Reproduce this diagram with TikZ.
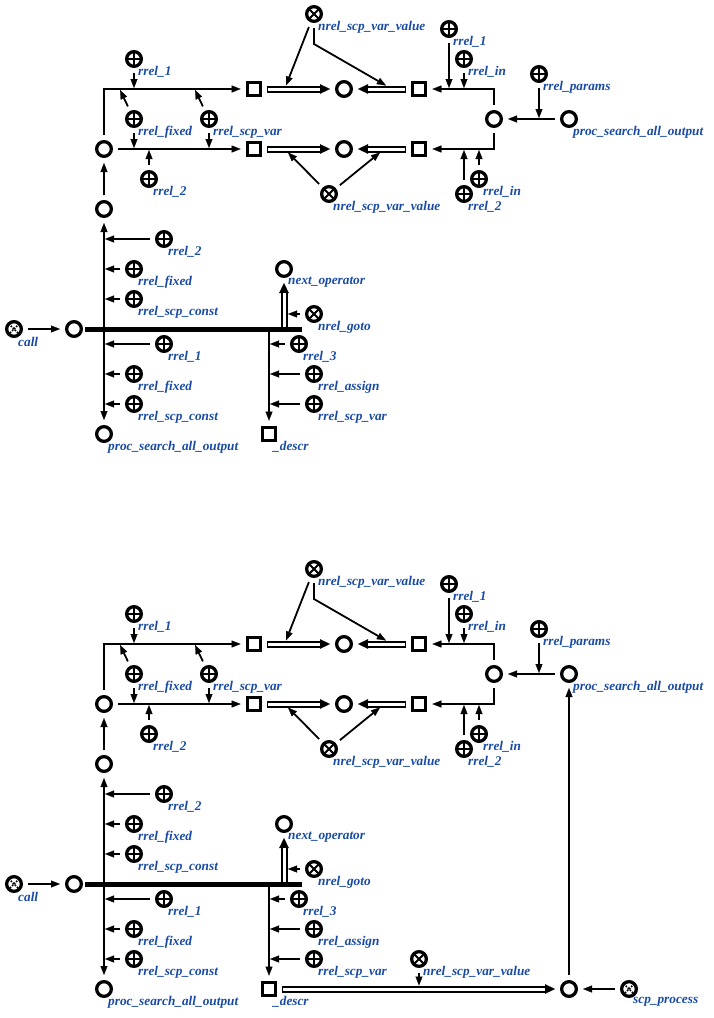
\documentclass[tikz,border=0pt]{standalone}
\usepackage{fontspec}
\setmainfont{Liberation Serif}
\usetikzlibrary{arrows.meta}
\definecolor{labblue}{RGB}{25,75,165}
\tikzset{
 ndbase/.style={circle,draw,line width=3.3pt,minimum size=14.7pt,inner sep=0pt,fill=white},
 emptyn/.style={ndbase},
 plusn/.style={ndbase,path picture={\draw[line width=2pt] (path picture bounding box.north)--(path picture bounding box.south) (path picture bounding box.west)--(path picture bounding box.east);}},
 crossn/.style={ndbase,path picture={\draw[line width=2pt] (path picture bounding box.north west)--(path picture bounding box.south east) (path picture bounding box.north east)--(path picture bounding box.south west);}},
 dcrossn/.style={ndbase,path picture={\draw[line width=1.6pt,dash pattern=on 1.6pt off 1.3pt] (path picture bounding box.north west)--(path picture bounding box.south east) (path picture bounding box.north east)--(path picture bounding box.south west);}},
 sq/.style={rectangle,draw,line width=3.3pt,minimum size=13.4pt,inner sep=0pt,fill=white},
 lab/.style={anchor=west,inner sep=0pt,text=labblue,font=\bfseries\itshape\fontsize{13.3}{15}\selectfont},
 scarc/.style={line width=1.8pt,-{Triangle[length=9pt,width=7pt,line width=0.2pt]},shorten <=5pt,shorten >=5pt},
 toarc/.style={scarc,shorten >=0pt},
 fromcoord/.style={scarc,shorten <=0pt},
 busline/.style={line width=5pt},
}
\newcommand{\nd}[5]{\node[#1] (#2) at (#3,#4) {}; \node[lab] (#2-l) at (#3+4,#4+13) {#5};}
\newcommand{\carc}[4]{%
 \draw[line width=7pt,-{Triangle[length=10pt,width=9.5pt,line width=0.2pt]},shorten <=#3,shorten >=5pt] (#1) -- (#2);
 \draw[white,line width=3pt,shorten <=#4,shorten >=15pt] (#1) -- (#2);}
\newcommand{\common}{%
 \nd{crossn}{vt}{314}{14}{nrel\_scp\_var\_value}
 \nd{plusn}{ra}{134}{59}{rrel\_1}
 \nd{plusn}{rb}{134}{119}{rrel\_fixed}
 \nd{plusn}{rc}{209}{119}{rrel\_scp\_var}
 \nd{plusn}{rd}{149}{179}{rrel\_2}
 \node[emptyn] (A) at (104,149) {};
 \node[emptyn] (B) at (104,209) {};
 \node[sq] (S1) at (254,89) {};
 \node[sq] (S2) at (254,149) {};
 \node[emptyn] (C1) at (344,89) {};
 \node[emptyn] (C2) at (344,149) {};
 \node[sq] (S3) at (419,89) {};
 \node[sq] (S4) at (419,149) {};
 \node[emptyn] (D) at (494,119) {};
 \nd{emptyn}{ps}{569}{119}{proc\_search\_all\_output}
 \nd{plusn}{rp}{539}{74}{rrel\_params}
 \nd{plusn}{re}{449}{29}{rrel\_1}
 \nd{plusn}{rf}{464}{59}{rrel\_in}
 \nd{plusn}{rg}{479}{179}{rrel\_in}
 \nd{plusn}{rh}{464}{194}{rrel\_2}
 \nd{crossn}{vb}{329}{194}{nrel\_scp\_var\_value}
 \nd{dcrossn}{call}{14}{329}{call}
 \node[emptyn] (E) at (74,329) {};
 \nd{plusn}{la}{164}{239}{rrel\_2}
 \nd{plusn}{lb}{134}{269}{rrel\_fixed}
 \nd{plusn}{lc}{134}{299}{rrel\_scp\_const}
 \nd{plusn}{ld}{164}{344}{rrel\_1}
 \nd{plusn}{le}{134}{374}{rrel\_fixed}
 \nd{plusn}{lf}{134}{404}{rrel\_scp\_const}
 \nd{emptyn}{out}{104}{434}{proc\_search\_all\_output}
 \nd{emptyn}{next}{284}{269}{next\_operator}
 \nd{crossn}{goto}{314}{314}{nrel\_goto}
 \nd{plusn}{ma}{299}{344}{rrel\_3}
 \nd{plusn}{mb}{314}{374}{rrel\_assign}
 \nd{plusn}{mc}{314}{404}{rrel\_scp\_var}
 \nd{sq}{descr}{269}{434}{\_descr}
 \coordinate (p1) at (134,88);
 \coordinate (p2) at (120,90);
 \coordinate (p3) at (195,90);
 \coordinate (p4) at (134,148);
 \coordinate (p5) at (209,148);
 \coordinate (p6) at (149,150);
 \coordinate (q1) at (286,85.5);
 \coordinate (q2) at (314,44);
 \coordinate (q3) at (386,85.5);
 \coordinate (q4) at (288,152.5);
 \coordinate (q5) at (380,152.5);
 \coordinate (d1) at (449,88);
 \coordinate (d2) at (464,88);
 \coordinate (d3) at (464,150);
 \coordinate (d4) at (479,150);
 \coordinate (d5) at (539,118);
 \coordinate (bs) at (85,329);
 \coordinate (be) at (302,329);
 \coordinate (v0) at (104,329);
 \coordinate (v1) at (105,239);
 \coordinate (v2) at (105,269);
 \coordinate (v3) at (105,299);
 \coordinate (v4) at (105,344);
 \coordinate (v5) at (105,374);
 \coordinate (v6) at (105,404);
 \coordinate (w0) at (284,329);
 \coordinate (w1) at (288,314);
 \coordinate (u0) at (269,329);
 \coordinate (u1) at (270,344);
 \coordinate (u2) at (270,374);
 \coordinate (u3) at (270,404);
 \draw[scarc] (A) |- (S1);
 \draw[scarc] (A) -- (S2);
 \draw[scarc] (B) -- (A);
 \draw[toarc] (ra) -- (p1);
 \draw[toarc] (rb) -- (p2);
 \draw[toarc] (rb) -- (p4);
 \draw[toarc] (rc) -- (p3);
 \draw[toarc] (rc) -- (p5);
 \draw[toarc] (rd) -- (p6);
 \carc{S1}{C1}{5pt}{6pt}
 \carc{S3}{C1}{5pt}{6pt}
 \carc{S2}{C2}{5pt}{6pt}
 \carc{S4}{C2}{5pt}{6pt}
 \draw[toarc] (vt) -- (q1);
 \draw[toarc] (vt) -- (q2) -- (q3);
 \draw[toarc] (vb) -- (q4);
 \draw[toarc] (vb) -- (q5);
 \draw[scarc] (D) |- (S3);
 \draw[scarc] (D) |- (S4);
 \draw[scarc] (ps) -- (D);
 \draw[toarc] (rp) -- (d5);
 \draw[toarc] (re) -- (d1);
 \draw[toarc] (rf) -- (d2);
 \draw[toarc] (rh) -- (d3);
 \draw[toarc] (rg) -- (d4);
 \draw[scarc] (call) -- (E);
 \draw[busline] (bs) -- (be);
 \draw[fromcoord] (v0) -- (B);
 \draw[fromcoord] (v0) -- (out);
 \draw[toarc] (la) -- (v1);
 \draw[toarc] (lb) -- (v2);
 \draw[toarc] (lc) -- (v3);
 \draw[toarc] (ld) -- (v4);
 \draw[toarc] (le) -- (v5);
 \draw[toarc] (lf) -- (v6);
 \carc{w0}{next}{0pt}{2.5pt}
 \draw[toarc] (goto) -- (w1);
 \draw[fromcoord] (u0) -- (descr);
 \draw[toarc] (ma) -- (u1);
 \draw[toarc] (mb) -- (u2);
 \draw[toarc] (mc) -- (u3);
}
\begin{document}
\begin{tikzpicture}[x=1pt,y=-1pt]
\useasboundingbox (0,0) rectangle (714,1018);
\begin{scope}[name prefix=t-]
\common
\end{scope}
\begin{scope}[yshift=-555pt,name prefix=b-]
\common
\end{scope}
\node[emptyn] (F) at (569,989) {};
\nd{dcrossn}{scp}{629}{989}{scp\_process}
\nd{crossn}{vv}{419}{959}{nrel\_scp\_var\_value}
\coordinate (vvt) at (419,985.5);
\carc{b-descr}{F}{5pt}{6pt}
\draw[toarc] (vv) -- (vvt);
\draw[scarc] (scp) -- (F);
\draw[scarc] (F) -- (b-ps);
\end{tikzpicture}
\end{document}
